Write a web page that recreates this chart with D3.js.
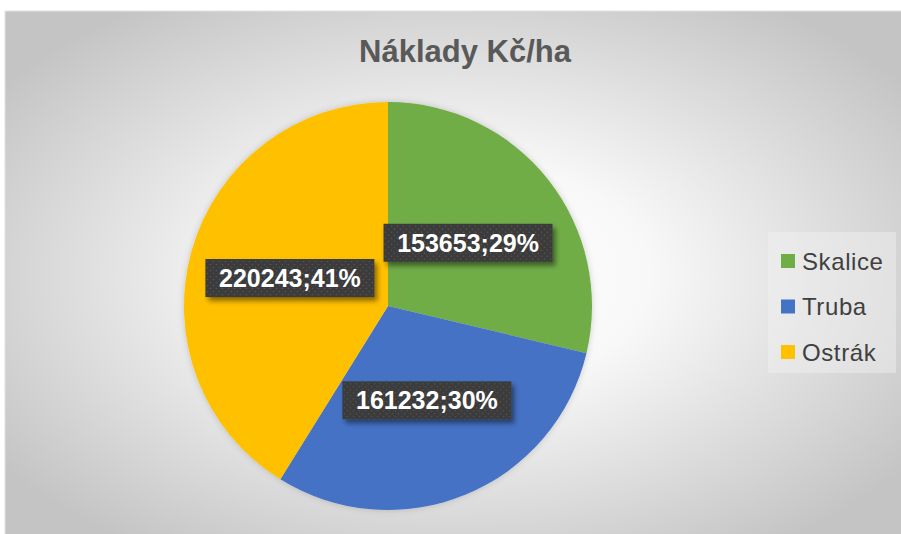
<!DOCTYPE html>
<html>
<head>
<meta charset="utf-8">
<script src="https://cdn.jsdelivr.net/npm/d3@7"></script>
<style>
  body { margin: 0; background: #fff; }
  svg { display: block; font-family: "Liberation Sans", Arial, sans-serif; }
</style>
</head>
<body>
<div id="chart"></div>
<script>
// Data
const categories = ["Skalice", "Truba", "Ostrák"];
const values = [153653, 161232, 220243];
const percentLabels = ["29%", "30%", "41%"];
const colors = ["#70AD47", "#4472C4", "#FFC000"];
const title = "Náklady Kč/ha";

/*******************************/
/*    Declare the constants    */
/*******************************/
const width = 901;
const height = 534;
const frame = {x: 5, y: 11, w: 900, h: 530};
const center = {x: 388, y: 306};
const radius = 204;

const svg = d3.select("#chart")
  .append("svg")
    .attr("width", width)
    .attr("height", height);

const defs = svg.append("defs");

// Radial background
const bg = defs.append("radialGradient")
    .attr("id", "bgGrad")
    .attr("cx", "50%").attr("cy", "50%").attr("r", "62%");
bg.append("stop").attr("offset", "0%").attr("stop-color", "#ffffff");
bg.append("stop").attr("offset", "35%").attr("stop-color", "#f8f8f8");
bg.append("stop").attr("offset", "100%").attr("stop-color", "#c4c4c4");

// Dotted pattern for label boxes
const pat = defs.append("pattern")
    .attr("id", "dots")
    .attr("width", 6).attr("height", 6)
    .attr("patternUnits", "userSpaceOnUse");
pat.append("rect").attr("width", 6).attr("height", 6).attr("fill", "#3b3b3b");
pat.append("circle").attr("cx", 1.5).attr("cy", 1.5).attr("r", 0.8).attr("fill", "#555");
pat.append("circle").attr("cx", 4.5).attr("cy", 4.5).attr("r", 0.8).attr("fill", "#555");

// Shadows
const sh = defs.append("filter").attr("id", "boxShadow")
    .attr("x", "-20%").attr("y", "-30%").attr("width", "150%").attr("height", "180%");
sh.append("feDropShadow")
    .attr("dx", 3).attr("dy", 4).attr("stdDeviation", 2.5)
    .attr("flood-color", "#000").attr("flood-opacity", 0.45);

const pieSh = defs.append("filter").attr("id", "pieShadow")
    .attr("x", "-10%").attr("y", "-10%").attr("width", "120%").attr("height", "120%");
pieSh.append("feDropShadow")
    .attr("dx", 0).attr("dy", 0).attr("stdDeviation", 3)
    .attr("flood-color", "#000").attr("flood-opacity", 0.18);

/*******************************/
/*    Background and title     */
/*******************************/
svg.append("rect")
    .attr("x", frame.x).attr("y", frame.y)
    .attr("width", frame.w).attr("height", frame.h)
    .attr("fill", "url(#bgGrad)")
    .attr("stroke", "#e2e2e2");

svg.append("text")
    .text(title)
    .attr("x", 465)
    .attr("y", 62)
    .attr("text-anchor", "middle")
    .attr("font-size", 31)
    .attr("font-weight", "bold")
    .attr("fill", "#595959");

/*******************************/
/*    Pie                      */
/*******************************/
const pie = d3.pie().sort(null).value(d => d.value);
const data = categories.map((c, i) => ({name: c, value: values[i], pct: percentLabels[i], color: colors[i]}));
const arcs = pie(data);

const arc = d3.arc().innerRadius(0).outerRadius(radius);
const labelArc = d3.arc().innerRadius(0).outerRadius(radius);

const pieG = svg.append("g")
    .attr("transform", `translate(${center.x}, ${center.y})`);

pieG.append("g")
    .attr("filter", "url(#pieShadow)")
  .selectAll("path")
  .data(arcs)
  .join("path")
    .attr("d", arc)
    .attr("fill", d => d.data.color);

// Labels
const boxW = 169, boxH = 38;
const labels = pieG.selectAll("g.label")
  .data(arcs)
  .join("g")
    .attr("class", "label")
    .attr("transform", d => {
      const [x, y] = labelArc.centroid(d);
      return `translate(${x}, ${y})`;
    });

labels.append("rect")
    .attr("x", -boxW / 2).attr("y", -boxH / 2)
    .attr("width", boxW).attr("height", boxH)
    .attr("fill", "url(#dots)")
    .attr("filter", "url(#boxShadow)");

labels.append("text")
    .text(d => `${d.data.value};${d.data.pct}`)
    .attr("text-anchor", "middle")
    .attr("dy", "0.36em")
    .attr("font-size", 25)
    .attr("font-weight", "bold")
    .attr("fill", "#ffffff");

/*******************************/
/*    Legend                   */
/*******************************/
const legend = svg.append("g")
    .attr("transform", "translate(768, 232)");

legend.append("rect")
    .attr("width", 128).attr("height", 141)
    .attr("fill", "#f2f2f2").attr("fill-opacity", 0.45);

const rows = legend.selectAll("g.row")
  .data(data)
  .join("g")
    .attr("class", "row")
    .attr("transform", (d, i) => `translate(13, ${29 + i * 45.5})`);

rows.append("rect")
    .attr("x", 0).attr("y", -7)
    .attr("width", 14).attr("height", 14)
    .attr("fill", d => d.color);

rows.append("text")
    .text(d => d.name)
    .attr("x", 21)
    .attr("dy", "0.36em")
    .attr("font-size", 24)
    .attr("letter-spacing", 0.6)
    .attr("fill", "#404040");
</script>
</body>
</html>
